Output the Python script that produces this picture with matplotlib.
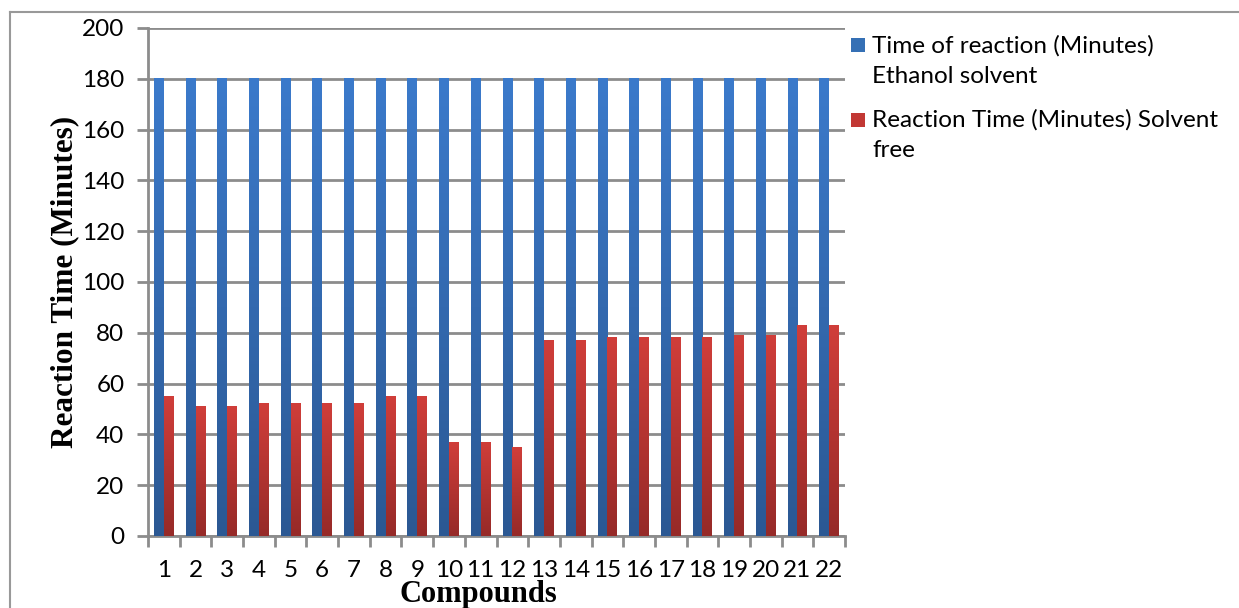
import numpy as np
import matplotlib
matplotlib.use("Agg")
import matplotlib.pyplot as plt
from matplotlib.lines import Line2D
from matplotlib.patches import Rectangle
from matplotlib.colors import LinearSegmentedColormap

compounds = [str(i) for i in range(1, 23)]
ethanol = [180] * 22
solvent_free = [55, 51, 51, 52, 52, 52, 52, 55, 55, 37, 37, 35,
                77, 77, 78, 78, 78, 78, 79, 79, 83, 83]
series_names = ["Time of reaction (Minutes)\nEthanol solvent",
                "Reaction Time (Minutes) Solvent\nfree"]
yticks = list(range(0, 201, 20))

W, H = 1239, 608
fig = plt.figure(figsize=(W / 100, H / 100), dpi=100)
ax = fig.add_axes([148 / W, 1 - 536 / H, (845 - 148) / W, (536 - 28) / H])

x = np.arange(len(compounds))
bw = 0.31
blue_cmap = LinearSegmentedColormap.from_list("b", ["#2b5893", "#3b7acb"])
red_cmap = LinearSegmentedColormap.from_list("r", ["#962a28", "#d03e3a"])

b1 = ax.bar(x - bw / 2, ethanol, bw, color="#3570b5", zorder=3)
b2 = ax.bar(x + bw / 2, solvent_free, bw, color="#c23834", zorder=3)

grad = np.linspace(0, 1, 256).reshape(-1, 1)
for bars, cmap in ((b1, blue_cmap), (b2, red_cmap)):
    for r in bars:
        x0, y0 = r.get_x(), r.get_y()
        w, h = r.get_width(), r.get_height()
        r.set_facecolor("none")
        ax.imshow(grad, cmap=cmap, origin="lower", aspect="auto",
                  extent=[x0, x0 + w, y0, y0 + h], zorder=3)

ax.set_xlim(-0.5, len(compounds) - 0.5)
ax.set_ylim(0, 200)
ax.set_yticks(yticks)
ax.set_xticks(x)
ax.set_xticklabels(compounds)
ax.set_xticks(np.arange(-0.5, len(compounds)), minor=True)

gc = "#8c8c8c"
ax.grid(axis="y", color=gc, linewidth=2, zorder=1)
ax.set_axisbelow(True)
for s in ["top", "right"]:
    ax.spines[s].set_visible(False)
for s in ["left", "bottom"]:
    ax.spines[s].set_color(gc)
    ax.spines[s].set_linewidth(2)
ax.tick_params(axis="x", which="major", length=0, pad=17)
ax.tick_params(axis="x", which="minor", length=8, width=2, color=gc)
ax.tick_params(axis="y", length=8, width=2, color=gc, pad=9)

for lab in ax.get_xticklabels() + ax.get_yticklabels():
    lab.set_fontfamily("Lato")
    lab.set_fontsize(17.5)

ax.set_ylabel("Reaction Time (Minutes)", family="Liberation Serif",
              fontweight="bold", fontsize=22.5, labelpad=2)
fig.text(478 / W, 1 - 602 / H, "Compounds", family="Liberation Serif",
         fontweight="bold", fontsize=22, ha="center", va="baseline")

# legend drawn manually (marker aligned with first text line)
leg_colors = ["#3570b5", "#c23834"]
leg_tops = [38, 113]
leg_text_offsets = [-3, -4]
for name, col, top, off in zip(series_names, leg_colors, leg_tops, leg_text_offsets):
    fig.patches.append(Rectangle((851 / W, 1 - (top + 14) / H), 14 / W, 14 / H,
                                 transform=fig.transFigure, facecolor=col,
                                 edgecolor="none"))
    fig.text(872 / W, 1 - (top + off) / H, name, family="Lato", fontsize=17.5,
             ha="left", va="top", linespacing=1.55)

fig.add_artist(Line2D([10 / W, 1], [1 - 12 / H, 1 - 12 / H], color="#999999", lw=1.5))
fig.add_artist(Line2D([10 / W, 10 / W], [0, 1 - 12 / H], color="#999999", lw=1.5))

fig.savefig("out.png", dpi=100)
